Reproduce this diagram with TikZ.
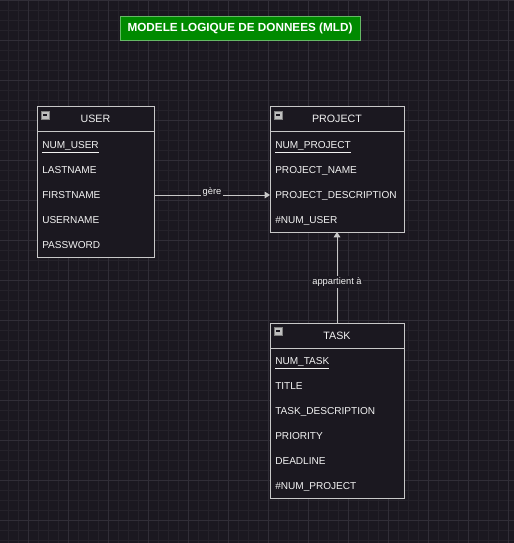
\documentclass[tikz,border=0pt]{standalone}
\usepackage{fontspec}
\setmainfont{Liberation Sans}
\usetikzlibrary{arrows.meta}
\definecolor{bgc}{HTML}{1B1820}
\definecolor{gridminor}{HTML}{25222A}
\definecolor{gridmajor}{HTML}{312E37}
\definecolor{bord}{HTML}{C8C8C8}
\definecolor{txt}{HTML}{F2F2F2}
\definecolor{titlegreen}{HTML}{008A00}
\tikzset{
  tbl/.style={draw=bord, line width=0.75pt, fill=bgc},
  hdr/.style={text=txt, font=\fontsize{8}{9}\selectfont, anchor=center},
  fld/.style={text=txt, font=\fontsize{7.55}{9}\selectfont, anchor=base west, inner sep=0pt, yshift=-2.8pt},
  conn/.style={draw=bord, line width=0.75pt, -{Triangle[width=5pt,length=4pt]}},
  lbl/.style={text=txt, font=\fontsize{7}{8}\selectfont, fill=bgc, inner sep=1pt},
  mini/.style={draw=gray, fill=lightgray, minimum size=6pt, inner sep=0pt}
}
\begin{document}
\begin{tikzpicture}[x=0.75pt,y=-0.75pt]
\useasboundingbox (0,0) rectangle (514,543);
\fill[bgc] (0,0) rectangle (514,543);
\foreach \i in {0,10,...,510} \draw[gridminor, line width=0.4pt] (\i+8,0) -- (\i+8,543);
\foreach \i in {0,10,...,540} \draw[gridminor, line width=0.4pt] (0,\i) -- (514,\i);
\foreach \i in {0,40,...,510} \draw[gridmajor, line width=0.5pt] (\i+28,0) -- (\i+28,543);
\foreach \i in {0,40,...,540} \draw[gridmajor, line width=0.5pt] (0,\i) -- (514,\i);

% title
\node[draw=titlegreen!60!white, fill=titlegreen, text=white, font=\bfseries\fontsize{8.8}{10}\selectfont,
  minimum width=240*0.75pt, minimum height=24*0.75pt, inner sep=0pt] (title) at (240,28) {MODELE LOGIQUE DE DONNEES (MLD)};

% USER
\draw[tbl] (37,106) rectangle (154,257);
\draw[bord, line width=0.75pt] (37,131) -- (154,131);
\node[hdr] (userh) at (95.5,119) {USER};
\node[mini] (userm) at (45,115) {};
\draw[bgc, line width=0.8pt] (43,115) -- (47,115);
\node[fld] (u1) at (42,145) {\underline{NUM\_USER}};
\node[fld] (u2) at (42,170) {LASTNAME};
\node[fld] (u3) at (42,195) {FIRSTNAME};
\node[fld] (u4) at (42,220) {USERNAME};
\node[fld] (u5) at (42,245) {PASSWORD};
\coordinate (userR) at (154,195);

% PROJECT
\draw[tbl] (270,106) rectangle (404,232);
\draw[bord, line width=0.75pt] (270,131) -- (404,131);
\node[hdr] (projh) at (337,119) {PROJECT};
\node[mini] (projm) at (278,115) {};
\draw[bgc, line width=0.8pt] (276,115) -- (280,115);
\node[fld] (p1) at (275,145) {\underline{NUM\_PROJECT}};
\node[fld] (p2) at (275,170) {PROJECT\_NAME};
\node[fld] (p3) at (275,195) {PROJECT\_DESCRIPTION};
\node[fld] (p4) at (275,220) {\#NUM\_USER};
\coordinate (projL) at (270,195);
\coordinate (projB) at (337,232);

% TASK
\draw[tbl] (270,323) rectangle (404,498);
\draw[bord, line width=0.75pt] (270,348) -- (404,348);
\node[hdr] (taskh) at (337,336) {TASK};
\node[mini] (taskm) at (278,331) {};
\draw[bgc, line width=0.8pt] (276,331) -- (280,331);
\node[fld] (t1) at (275,361) {\underline{NUM\_TASK}};
\node[fld] (t2) at (275,386) {TITLE};
\node[fld] (t3) at (275,411) {TASK\_DESCRIPTION};
\node[fld] (t4) at (275,436) {PRIORITY};
\node[fld] (t5) at (275,461) {DEADLINE};
\node[fld] (t6) at (275,486) {\#NUM\_PROJECT};
\coordinate (taskT) at (337,323);

% connectors
\draw[conn] (userR) -- node[lbl, yshift=2pt] {gère} (projL);
\draw[conn] (taskT) -- node[lbl, pos=0.45] {appartient à} (projB);
\end{tikzpicture}
\end{document}
